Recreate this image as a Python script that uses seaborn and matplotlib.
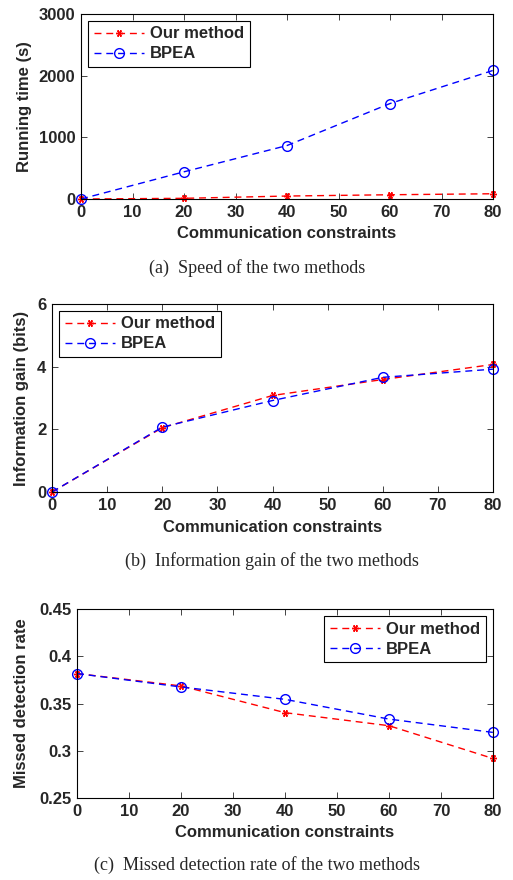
import numpy as np
import pandas as pd
import matplotlib
matplotlib.use("Agg")
import matplotlib.pyplot as plt
import seaborn as sns

# ---------------- data ----------------
constraints = [0, 20, 40, 60, 80]
x_ticks = [0, 10, 20, 30, 40, 50, 60, 70, 80]

time_ours = [0, 11, 48, 69, 85]
time_bpea = [0, 441, 867, 1548, 2085]

gain_ours = [0.0, 2.05, 3.08, 3.59, 4.07]
gain_bpea = [0.0, 2.07, 2.92, 3.66, 3.92]

miss_ours = [0.3817, 0.3686, 0.3403, 0.3265, 0.2918]
miss_bpea = [0.3817, 0.3675, 0.3544, 0.3335, 0.3194]

series_names = ["Our method", "BPEA"]
xlabel = "Communication constraints"
ylabels = ["Running time (s)", "Information gain (bits)", "Missed detection rate"]
captions = ["(a)  Speed of the two methods",
            "(b)  Information gain of the two methods",
            "(c)  Missed detection rate of the two methods"]
y_ticks = [[0, 1000, 2000, 3000], [0, 2, 4, 6], [0.25, 0.3, 0.35, 0.4, 0.45]]
y_ticklabels = [["0", "1000", "2000", "3000"], ["0", "2", "4", "6"],
                ["0.25", "0.3", "0.35", "0.4", "0.45"]]
y_lims = [(0, 3000), (0, 6), (0.25, 0.45)]

# ---------------- style ----------------
sns.set_style("ticks")
plt.rcParams["font.family"] = ["Liberation Sans", "DejaVu Sans"]
plt.rcParams["font.weight"] = "bold"

W, H = 513, 880
fig = plt.figure(figsize=(W / 100, H / 100), dpi=100)

# axes boxes in pixels: left, top, right, bottom
boxes = [(81, 14, 493, 199), (52, 304, 493, 492), (77, 609, 493, 798)]
xlabel_y = [234, 527, 832]
ylabel_x = [25, 22, 22]
caption_pos = [(257, 268), (272, 561), (257, 865)]
legend_locs = ["upper left", "upper left", "upper right"]

data_sets = [(time_ours, time_bpea), (gain_ours, gain_bpea), (miss_ours, miss_bpea)]
colors = ["#ff0000", "#0000ff"]
markers = [(6, 2, 90), "o"]
msizes = [5, 7]

for i, (l, t, r, b) in enumerate(boxes):
    ax = fig.add_axes([l / W, 1 - b / H, (r - l) / W, (b - t) / H])
    for k, yvals in enumerate(data_sets[i]):
        sns.lineplot(x=constraints, y=yvals, color=colors[k], label=series_names[k],
                     marker=markers[k], markersize=msizes[k], markerfacecolor="none",
                     markeredgecolor=colors[k], markeredgewidth=1.0,
                     linestyle=(0, (5, 3.5)), linewidth=1.0, ax=ax, clip_on=False)

    ax.set_xlim(0, 80)
    ax.set_ylim(*y_lims[i])
    ax.set_xticks(x_ticks)
    ax.set_xticklabels([str(v) for v in x_ticks])
    ax.set_yticks(y_ticks[i])
    ax.set_yticklabels(y_ticklabels[i])
    ax.tick_params(direction="in", top=True, right=True, length=4, width=0.6,
                   labelsize=12, pad=4)
    for lab in ax.get_xticklabels() + ax.get_yticklabels():
        lab.set_fontweight("bold")
    for sp in ax.spines.values():
        sp.set_visible(True)
        sp.set_linewidth(0.8)
        sp.set_color("black")

    ax.set_xlabel(xlabel, fontsize=12, fontweight="bold")
    ax.xaxis.label.set_va("center")
    ax.xaxis.set_label_coords((l + r) / 2 / W, 1 - xlabel_y[i] / H, transform=fig.transFigure)
    ax.set_ylabel(ylabels[i], fontsize=12, fontweight="bold")
    ax.yaxis.label.set_rotation_mode("default")
    ax.yaxis.label.set_va("center")
    ax.yaxis.set_label_coords(ylabel_x[i] / W, 1 - (t + b) / 2 / H, transform=fig.transFigure)

    leg = ax.legend(loc=legend_locs[i], frameon=True, fancybox=False,
                    prop={"size": 12, "weight": "bold"}, handlelength=3.0,
                    borderaxespad=0.4, handletextpad=0.4, borderpad=0.35,
                    labelspacing=0.3)
    leg.get_frame().set_edgecolor("black")
    leg.get_frame().set_linewidth(0.8)
    leg.get_frame().set_alpha(1)

    cx, cy = caption_pos[i]
    fig.text(cx / W, 1 - cy / H, captions[i], ha="center", va="center",
             fontsize=13, fontweight="normal", family=["Liberation Serif", "DejaVu Serif"])

fig.savefig("out.png", dpi=100)
